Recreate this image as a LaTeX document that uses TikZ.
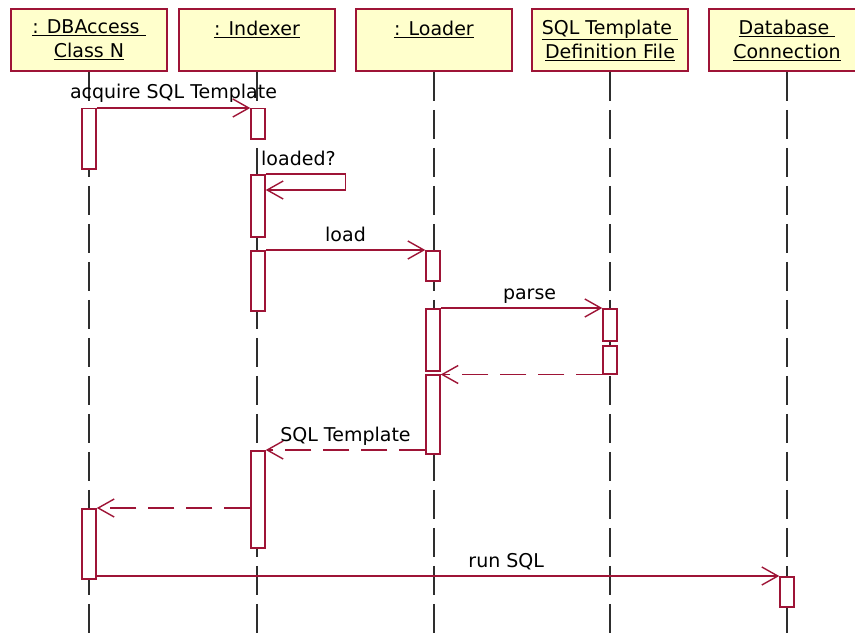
\documentclass[tikz,border=0pt]{standalone}
\usepackage{fontspec}
\setmainfont{DejaVu Sans}
\usetikzlibrary{arrows.meta}
\definecolor{umlred}{HTML}{9E1436}
\definecolor{headfill}{HTML}{FFFFCC}
\definecolor{lifegray}{HTML}{2E2E2E}

\begin{document}
\begin{tikzpicture}[x=1pt,y=-1pt,font=\fontsize{19}{24}\selectfont,head/.style={draw=umlred,fill=headfill,line width=1.6pt,minimum width=156pt,minimum height=62pt,align=center,inner sep=0pt,text=black},life/.style={draw=lifegray,line width=1.6pt,dash pattern=on 29pt off 9pt},act/.style={draw=umlred,fill=white,line width=1.5pt,minimum width=14pt,inner sep=0pt,anchor=north},msg/.style={umlred,line width=1.4pt,-{Straight Barb[length=16pt,width=18pt]}},reply/.style={msg,dash pattern=on 26pt off 12pt},lbl/.style={anchor=base,yshift=9pt,inner sep=0pt,text=black}]
  \useasboundingbox (0,0) rectangle (855,634);
  \node[head] (dba) at (89,40) {\underline{: DBAccess\ }\\\underline{Class N}};
  \node[head] (idx) at (257,40) {\underline{: Indexer}\\~};
  \node[head] (ldr) at (434,40) {\underline{: Loader}\\~};
  \node[head] (sqf) at (610,40) {\underline{SQL Template\ }\\\underline{Definition File}};
  \node[head] (dbc) at (787,40) {\underline{Database\ }\\\underline{Connection}};
  \draw[life] (dba.south) -- (dba.south |- 0,634);
  \draw[life] (idx.south) -- (idx.south |- 0,634);
  \draw[life] (ldr.south) -- (ldr.south |- 0,634);
  \draw[life] (sqf.south) -- (sqf.south |- 0,634);
  \draw[life] (dbc.south) -- (dbc.south |- 0,634);
  \node[act,minimum height=60pt] (dba1) at (89,108) {};
  \node[act,minimum height=70pt] (dba2) at (89,508) {};
  \node[act,minimum height=30pt] (idx1) at (258,108) {};
  \node[act,minimum height=62pt] (idx2) at (258,174) {};
  \node[act,minimum height=60pt] (idx3) at (258,250) {};
  \node[act,minimum height=97pt] (idx4) at (258,450) {};
  \node[act,minimum height=30pt] (ldr1) at (433,250) {};
  \node[act,minimum height=62pt] (ldr2) at (433,308) {};
  \node[act,minimum height=79pt] (ldr3) at (433,374) {};
  \node[act,minimum height=32pt] (sql1) at (610,308) {};
  \node[act,minimum height=28pt] (sql2) at (610,345) {};
  \node[act,minimum height=30pt] (dbc1) at (787,576) {};
  \draw[msg] (dba1.north east) -- node[lbl] {acquire SQL Template} (idx1.north west);
  \draw[msg] (idx2.north east) -- ++(80,0) -- ++(0,16) -- ++(-80,0);
  \node[anchor=base west,inner sep=0pt] (loaded) at (261,165) {loaded?};
  \draw[msg] (idx3.north east) -- node[lbl] {load} (ldr1.north west);
  \draw[msg] (ldr2.north east) -- node[lbl,pos=.55] {parse} (sql1.north west);
  \draw[reply] (sql2.south west) -- (ldr3.east |- sql2.south);
  \draw[reply] (ldr3.west |- idx4.north) -- node[lbl] {SQL Template} (idx4.north east);
  \draw[reply] (idx4.west |- dba2.north) -- (dba2.north east);
  \draw[msg] (dba2.east |- dbc1.north) -- node[lbl,pos=.6] {run SQL} (dbc1.north west);
\end{tikzpicture}
\end{document}
